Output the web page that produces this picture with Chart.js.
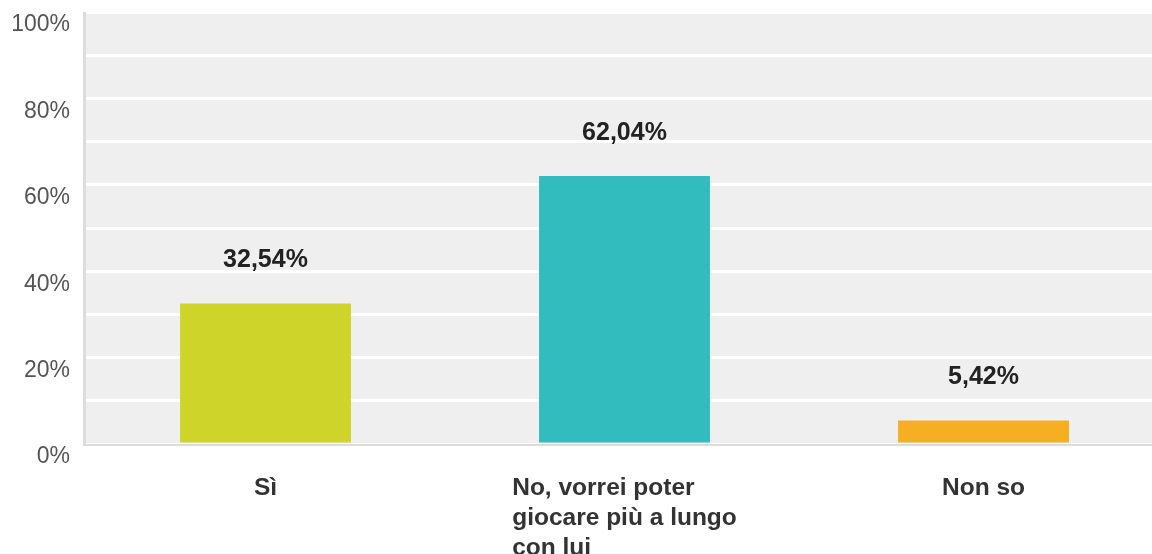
<!DOCTYPE html>
<html>
<head>
<meta charset="utf-8">
<script src="https://cdn.jsdelivr.net/npm/chart.js@4/dist/chart.umd.min.js"></script>
<style>
html,body{margin:0;padding:0;background:#fff;overflow:hidden;width:1152px;height:554px;}
#wrap{position:absolute;left:0;top:0;width:1163px;height:554px;}
</style>
</head>
<body>
<div id="wrap"><canvas id="c"></canvas></div>
<script>
const categories = [["Sì"], ["No, vorrei poter", "giocare più a lungo", "con lui"], ["Non so"]];
const values = [32.54, 62.04, 5.42];
const valueLabels = ["32,54%", "62,04%", "5,42%"];
const barColors = ["#CFD42A", "#33BCBE", "#F6AE22"];
const yTicks = [0, 20, 40, 60, 80, 100];

const FONT = '"Liberation Sans", Arial, sans-serif';

const bgPlugin = {
  id: 'bg',
  beforeDraw(chart) {
    const {ctx, chartArea: a} = chart;
    ctx.save();
    ctx.fillStyle = '#EFEFEF';
    ctx.fillRect(a.left, a.top, a.right - a.left, a.bottom - a.top);
    ctx.restore();
  },
  afterDatasetsDraw(chart) {
    const {ctx, chartArea: a} = chart;
    ctx.save();
    ctx.fillStyle = '#DCDCDC';
    ctx.fillRect(a.left - 3, a.top, 3, a.bottom - a.top + 2);
    ctx.fillRect(a.left - 3, a.bottom, a.right - a.left + 3, 2);
    const meta = chart.getDatasetMeta(0);
    ctx.font = 'bold 25px ' + FONT;
    ctx.fillStyle = '#222';
    ctx.textAlign = 'center';
    ctx.textBaseline = 'middle';
    meta.data.forEach((bar, i) => {
      ctx.fillText(valueLabels[i], bar.x, bar.y - 43);
    });
    // category labels: left-aligned block centred under each bar
    const xs = chart.scales.x;
    ctx.font = 'bold 24.5px ' + FONT;
    ctx.fillStyle = '#333';
    ctx.textAlign = 'left';
    categories.forEach((lines, i) => {
      const cx = xs.getPixelForValue(i);
      const w = Math.max(...lines.map(l => ctx.measureText(l).width));
      const x0 = cx - w / 2;
      lines.forEach((l, j) => {
        ctx.fillText(l, x0, a.bottom + 44 + j * 30);
      });
    });
    ctx.restore();
  }
};

new Chart(document.getElementById('c'), {
  type: 'bar',
  data: {
    labels: categories,
    datasets: [{
      data: values,
      backgroundColor: barColors,
      borderWidth: 0,
      barPercentage: 0.476,
      categoryPercentage: 1
    }]
  },
  options: {
    responsive: true,
    maintainAspectRatio: false,
    animation: false,
    layout: { padding: { top: 12, right: 0, left: 0, bottom: 0 } },
    plugins: { legend: { display: false }, tooltip: { enabled: false } },
    scales: {
      x: {
        grid: { display: false, drawTicks: false },
        border: { display: false },
        ticks: { display: false },
        afterFit(scale) { scale.height = 110; scale.paddingLeft = 0; scale.paddingRight = 0; }
      },
      y: {
        min: 0,
        max: 100,
        grid: { color: '#FFFFFF', lineWidth: 3, drawTicks: false },
        border: { display: false },
        ticks: {
          stepSize: 10,
          padding: 16,
          labelOffset: 13,
          color: '#555',
          font: { family: FONT, size: 23 },
          callback(v) { return yTicks.includes(v) ? v + '%' : ''; }
        },
        afterFit(scale) { scale.width = 86; scale.paddingTop = 0; scale.paddingBottom = 0; }
      }
    }
  },
  plugins: [bgPlugin]
});
</script>
</body>
</html>
